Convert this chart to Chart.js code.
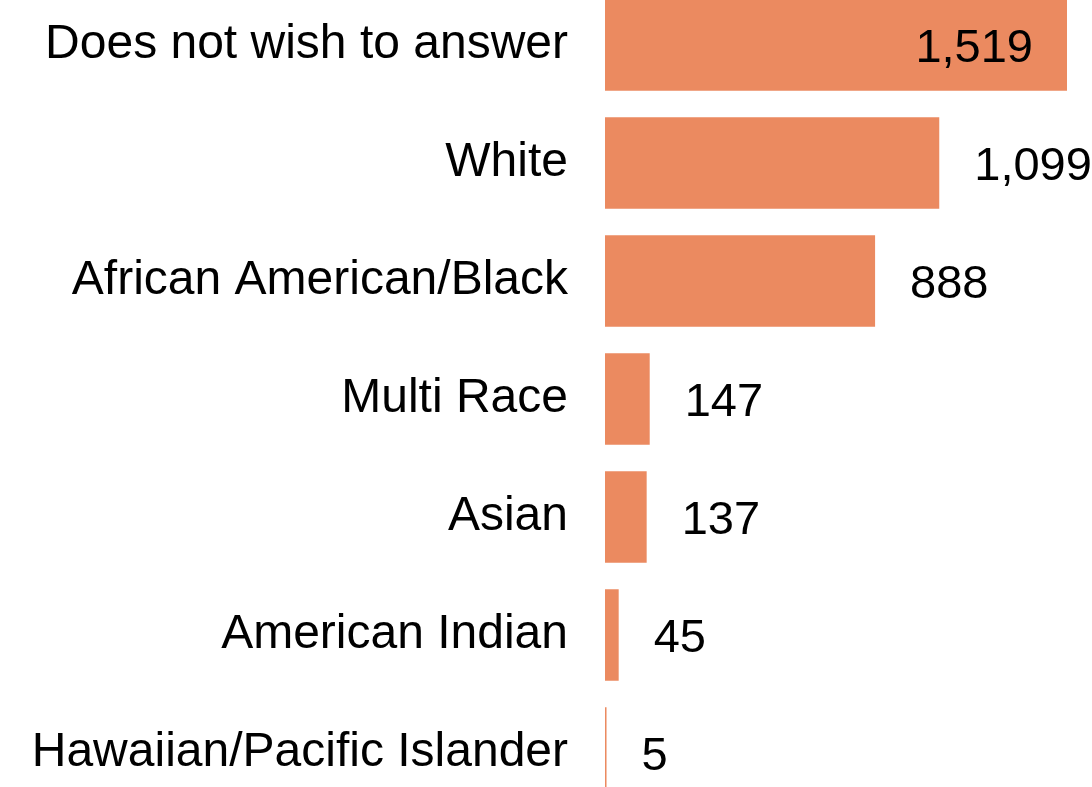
<!DOCTYPE html>
<html>
<head>
<meta charset="utf-8">
<script src="https://cdn.jsdelivr.net/npm/chart.js@4.4.0/dist/chart.umd.min.js"></script>
<style>
  html, body { margin: 0; padding: 0; background: #fff; overflow: hidden; }
  #wrap { position: absolute; left: 0; top: -14px; width: 1092px; height: 826px; }
</style>
</head>
<body>
<div id="wrap"><canvas id="raceChart" width="1092" height="826"></canvas></div>
<script>
// categories and counts
let categories = ["Does not wish to answer", "White", "African American/Black", "Multi Race", "Asian", "American Indian", "Hawaiian/Pacific Islander"]
let counts = [1519, 1099, 888, 147, 137, 45, 5]

let barColor = "#EB8A60"
let fontFamily = "'Liberation Sans', Arial, sans-serif"

// draws the number next to each bar (inside if it would not fit)
let valueLabels = {
    id: "valueLabels",
    afterDatasetsDraw(chart) {
        let ctx = chart.ctx
        let meta = chart.getDatasetMeta(0)
        ctx.save()
        ctx.font = "47px " + fontFamily
        ctx.fillStyle = "#000"
        ctx.textBaseline = "alphabetic"
        meta.data.forEach((bar, i) => {
            let txt = counts[i].toLocaleString("en-US")
            let w = ctx.measureText(txt).width
            let y = bar.y + 17
            if (bar.x + 35 + w > chart.width) {
                ctx.textAlign = "right"
                ctx.fillText(txt, bar.x - 34, y)
            } else {
                ctx.textAlign = "left"
                ctx.fillText(txt, bar.x + 35, y)
            }
        })
        ctx.restore()
    }
}

let barChart = new Chart(document.getElementById("raceChart").getContext("2d"), {
    type: "bar",
    data: {
        labels: categories,
        datasets: [{
            data: counts,
            backgroundColor: barColor,
            borderWidth: 0,
            categoryPercentage: 1,
            barPercentage: 0.776
        }]
    },
    options: {
        indexAxis: "y",
        responsive: false,
        animation: false,
        layout: { autoPadding: false, padding: { left: 0, right: 25, top: 0, bottom: 0 } },
        plugins: {
            legend: { display: false },
            tooltip: { enabled: false }
        },
        scales: {
            x: {
                display: false,
                min: 0,
                max: Math.max(...counts)
            },
            y: {
                grid: { display: false, drawTicks: false },
                border: { display: false },
                ticks: {
                    color: "#000",
                    padding: 37,
                    font: { family: fontFamily, size: 48 }
                },
                afterFit(scale) {
                    scale.width = 605
                    scale.paddingTop = 0
                    scale.paddingBottom = 0
                }
            }
        }
    },
    plugins: [valueLabels]
})
</script>
</body>
</html>
